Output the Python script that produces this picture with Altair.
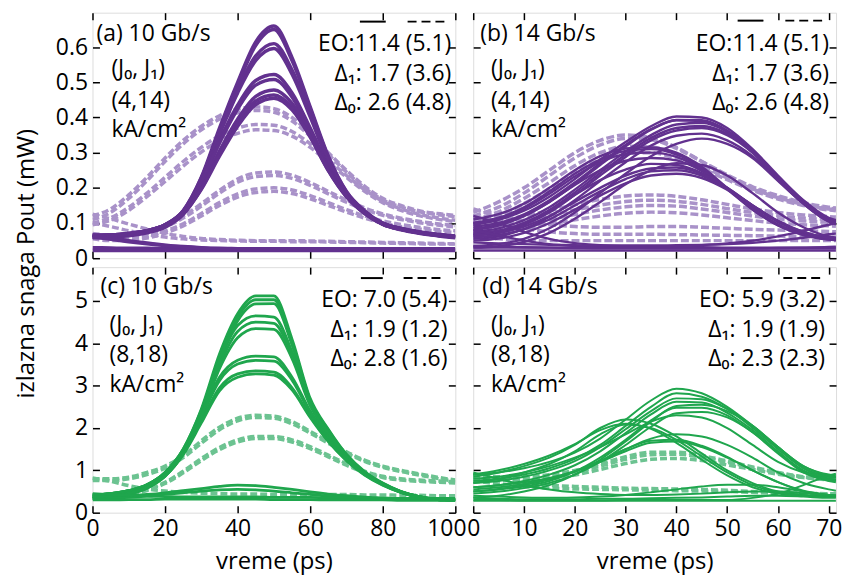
import altair as alt
import pandas as pd

# ---------------- time axes (ps) ----------------
T10 = [0, 5, 10, 15, 20, 25, 30, 35, 40, 45, 50, 55, 60, 65, 70, 75, 80, 85, 90, 95, 100]
T14 = [0, 5, 10, 15, 20, 25, 30, 35, 40, 45, 50, 55, 60, 65, 70, 71.4]

# ---------------- panel (a): 10 Gb/s, (4,14) ----------------
A_SOLID = [
    [0.065, 0.066, 0.07, 0.078, 0.095, 0.135, 0.23, 0.37, 0.5, 0.615, 0.66, 0.57, 0.43, 0.29, 0.19, 0.135, 0.1, 0.085, 0.075, 0.068, 0.063],
    [0.06, 0.062, 0.066, 0.075, 0.092, 0.132, 0.225, 0.362, 0.492, 0.605, 0.65, 0.562, 0.425, 0.287, 0.188, 0.132, 0.098, 0.083, 0.073, 0.066, 0.06],
    [0.065, 0.066, 0.07, 0.078, 0.095, 0.135, 0.228, 0.36, 0.48, 0.575, 0.61, 0.535, 0.41, 0.28, 0.186, 0.132, 0.099, 0.084, 0.074, 0.067, 0.062],
    [0.06, 0.062, 0.066, 0.075, 0.092, 0.132, 0.222, 0.352, 0.47, 0.562, 0.596, 0.523, 0.402, 0.275, 0.183, 0.13, 0.097, 0.082, 0.072, 0.065, 0.06],
    [0.065, 0.066, 0.07, 0.078, 0.095, 0.133, 0.22, 0.335, 0.435, 0.505, 0.522, 0.47, 0.37, 0.262, 0.18, 0.13, 0.099, 0.084, 0.074, 0.067, 0.062],
    [0.06, 0.062, 0.066, 0.075, 0.092, 0.13, 0.214, 0.327, 0.424, 0.492, 0.508, 0.458, 0.362, 0.257, 0.177, 0.128, 0.097, 0.082, 0.072, 0.065, 0.06],
    [0.065, 0.066, 0.07, 0.078, 0.094, 0.13, 0.205, 0.305, 0.395, 0.46, 0.478, 0.44, 0.355, 0.255, 0.178, 0.13, 0.099, 0.084, 0.074, 0.067, 0.062],
    [0.058, 0.06, 0.064, 0.072, 0.088, 0.124, 0.198, 0.296, 0.384, 0.447, 0.464, 0.428, 0.347, 0.25, 0.175, 0.127, 0.096, 0.081, 0.071, 0.064, 0.058],
    [0.062, 0.064, 0.068, 0.076, 0.092, 0.127, 0.196, 0.29, 0.375, 0.437, 0.455, 0.422, 0.344, 0.249, 0.175, 0.128, 0.097, 0.082, 0.072, 0.065, 0.06],
    [0.03, 0.029, 0.028, 0.028, 0.027, 0.027, 0.027, 0.027, 0.027, 0.027, 0.027, 0.027, 0.027, 0.027, 0.027, 0.027, 0.027, 0.027, 0.027, 0.027, 0.027],
    [0.022, 0.022, 0.022, 0.022, 0.022, 0.022, 0.022, 0.022, 0.022, 0.022, 0.022, 0.022, 0.022, 0.022, 0.022, 0.022, 0.022, 0.022, 0.022, 0.022, 0.022],
    [0.065, 0.058, 0.05, 0.043, 0.037, 0.033, 0.03, 0.028, 0.027, 0.026, 0.026, 0.025, 0.025, 0.025, 0.025, 0.025, 0.025, 0.025, 0.025, 0.025, 0.025],
    [0.06, 0.054, 0.047, 0.041, 0.036, 0.032, 0.029, 0.027, 0.026, 0.025, 0.025, 0.024, 0.024, 0.024, 0.024, 0.024, 0.024, 0.024, 0.024, 0.024, 0.024],
]
A_DASHED = [
    [0.12, 0.14, 0.18, 0.23, 0.285, 0.335, 0.375, 0.405, 0.424, 0.43, 0.425, 0.4, 0.355, 0.3, 0.25, 0.205, 0.17, 0.15, 0.135, 0.127, 0.122],
    [0.11, 0.13, 0.17, 0.22, 0.275, 0.325, 0.365, 0.395, 0.413, 0.42, 0.415, 0.39, 0.347, 0.295, 0.245, 0.2, 0.166, 0.146, 0.132, 0.124, 0.118],
    [0.1, 0.115, 0.145, 0.185, 0.23, 0.275, 0.315, 0.348, 0.37, 0.38, 0.378, 0.36, 0.325, 0.28, 0.235, 0.195, 0.162, 0.14, 0.125, 0.115, 0.108],
    [0.095, 0.108, 0.136, 0.175, 0.218, 0.262, 0.302, 0.334, 0.355, 0.365, 0.363, 0.347, 0.315, 0.273, 0.23, 0.19, 0.158, 0.136, 0.121, 0.111, 0.104],
    [0.07, 0.066, 0.066, 0.075, 0.093, 0.12, 0.155, 0.193, 0.225, 0.242, 0.245, 0.236, 0.215, 0.19, 0.165, 0.143, 0.126, 0.114, 0.105, 0.098, 0.093],
    [0.065, 0.061, 0.061, 0.07, 0.088, 0.114, 0.148, 0.185, 0.216, 0.232, 0.235, 0.227, 0.207, 0.183, 0.159, 0.138, 0.122, 0.11, 0.101, 0.094, 0.089],
    [0.06, 0.055, 0.055, 0.062, 0.077, 0.098, 0.127, 0.158, 0.183, 0.197, 0.2, 0.194, 0.178, 0.158, 0.138, 0.12, 0.106, 0.096, 0.088, 0.082, 0.078],
    [0.055, 0.05, 0.05, 0.057, 0.071, 0.092, 0.12, 0.15, 0.174, 0.187, 0.19, 0.184, 0.169, 0.15, 0.131, 0.114, 0.1, 0.09, 0.083, 0.077, 0.073],
    [0.125, 0.112, 0.097, 0.083, 0.071, 0.062, 0.056, 0.053, 0.051, 0.05, 0.05, 0.05, 0.049, 0.048, 0.047, 0.046, 0.045, 0.044, 0.043, 0.042, 0.041],
    [0.1, 0.09, 0.078, 0.068, 0.06, 0.055, 0.052, 0.05, 0.049, 0.048, 0.048, 0.047, 0.047, 0.046, 0.045, 0.044, 0.043, 0.042, 0.041, 0.04, 0.04],
]

# ---------------- panel (b): 14 Gb/s, (4,14) ----------------
B_SOLID = [
    [0.1, 0.11, 0.135, 0.175, 0.225, 0.28, 0.33, 0.375, 0.403, 0.4, 0.37, 0.31, 0.235, 0.165, 0.115, 0.108],
    [0.09, 0.1, 0.125, 0.165, 0.215, 0.27, 0.322, 0.367, 0.392, 0.39, 0.36, 0.3, 0.228, 0.16, 0.112, 0.105],
    [0.085, 0.095, 0.12, 0.16, 0.21, 0.265, 0.318, 0.365, 0.393, 0.392, 0.363, 0.305, 0.23, 0.16, 0.11, 0.102],
    [0.075, 0.085, 0.108, 0.145, 0.195, 0.25, 0.303, 0.35, 0.38, 0.385, 0.36, 0.305, 0.232, 0.163, 0.112, 0.104],
    [0.07, 0.078, 0.1, 0.137, 0.187, 0.242, 0.295, 0.342, 0.37, 0.376, 0.354, 0.302, 0.229, 0.16, 0.109, 0.101],
    [0.065, 0.072, 0.095, 0.13, 0.18, 0.235, 0.288, 0.335, 0.363, 0.37, 0.35, 0.3, 0.228, 0.16, 0.108, 0.1],
    [0.055, 0.062, 0.083, 0.118, 0.165, 0.22, 0.273, 0.32, 0.348, 0.354, 0.335, 0.29, 0.222, 0.155, 0.104, 0.096],
    [0.035, 0.04, 0.055, 0.085, 0.13, 0.185, 0.24, 0.29, 0.325, 0.34, 0.325, 0.285, 0.22, 0.155, 0.105, 0.098],
    [0.11, 0.125, 0.155, 0.2, 0.25, 0.29, 0.312, 0.315, 0.3, 0.26, 0.2, 0.14, 0.095, 0.068, 0.055, 0.053],
    [0.1, 0.115, 0.145, 0.19, 0.24, 0.28, 0.305, 0.31, 0.295, 0.256, 0.198, 0.139, 0.094, 0.067, 0.054, 0.052],
    [0.095, 0.11, 0.14, 0.183, 0.232, 0.273, 0.296, 0.3, 0.288, 0.252, 0.196, 0.138, 0.093, 0.066, 0.053, 0.051],
    [0.08, 0.093, 0.12, 0.16, 0.208, 0.25, 0.277, 0.285, 0.278, 0.248, 0.198, 0.142, 0.096, 0.068, 0.054, 0.052],
    [0.07, 0.078, 0.1, 0.135, 0.18, 0.222, 0.252, 0.268, 0.265, 0.242, 0.2, 0.148, 0.103, 0.072, 0.056, 0.054],
    [0.065, 0.072, 0.09, 0.12, 0.16, 0.2, 0.235, 0.255, 0.258, 0.24, 0.2, 0.15, 0.105, 0.073, 0.057, 0.055],
    [0.06, 0.066, 0.082, 0.11, 0.15, 0.19, 0.225, 0.247, 0.25, 0.235, 0.198, 0.15, 0.105, 0.074, 0.058, 0.056],
    [0.05, 0.056, 0.072, 0.1, 0.138, 0.178, 0.213, 0.235, 0.24, 0.228, 0.195, 0.15, 0.106, 0.075, 0.058, 0.056],
    [0.03, 0.034, 0.046, 0.072, 0.112, 0.16, 0.21, 0.25, 0.27, 0.265, 0.235, 0.185, 0.13, 0.088, 0.062, 0.058],
    [0.12, 0.1, 0.075, 0.055, 0.043, 0.037, 0.034, 0.032, 0.031, 0.031, 0.03, 0.03, 0.03, 0.03, 0.03, 0.03],
    [0.08, 0.065, 0.05, 0.04, 0.035, 0.032, 0.03, 0.029, 0.028, 0.028, 0.028, 0.028, 0.028, 0.028, 0.028, 0.028],
    [0.03, 0.03, 0.03, 0.03, 0.03, 0.03, 0.031, 0.032, 0.034, 0.037, 0.042, 0.05, 0.062, 0.078, 0.095, 0.1],
    [0.045, 0.042, 0.04, 0.038, 0.037, 0.036, 0.036, 0.036, 0.037, 0.038, 0.04, 0.044, 0.05, 0.058, 0.068, 0.07],
    [0.022, 0.022, 0.022, 0.022, 0.022, 0.022, 0.022, 0.022, 0.022, 0.022, 0.022, 0.022, 0.022, 0.022, 0.022, 0.022],
    [0.035, 0.033, 0.031, 0.03, 0.029, 0.028, 0.028, 0.028, 0.028, 0.028, 0.028, 0.028, 0.029, 0.03, 0.032, 0.033],
]
B_DASHED = [
    [0.13, 0.16, 0.2, 0.25, 0.3, 0.335, 0.35, 0.343, 0.315, 0.275, 0.235, 0.2, 0.175, 0.155, 0.142, 0.14],
    [0.12, 0.145, 0.185, 0.235, 0.285, 0.322, 0.34, 0.337, 0.312, 0.275, 0.237, 0.203, 0.178, 0.158, 0.145, 0.143],
    [0.11, 0.132, 0.17, 0.215, 0.263, 0.3, 0.318, 0.316, 0.295, 0.262, 0.228, 0.197, 0.172, 0.153, 0.14, 0.138],
    [0.1, 0.12, 0.155, 0.198, 0.243, 0.28, 0.298, 0.3, 0.283, 0.255, 0.223, 0.193, 0.168, 0.15, 0.137, 0.135],
    [0.1, 0.108, 0.12, 0.135, 0.152, 0.167, 0.177, 0.18, 0.176, 0.166, 0.153, 0.14, 0.13, 0.123, 0.118, 0.117],
    [0.09, 0.097, 0.108, 0.122, 0.137, 0.151, 0.161, 0.165, 0.162, 0.153, 0.141, 0.13, 0.121, 0.114, 0.11, 0.109],
    [0.08, 0.086, 0.097, 0.11, 0.124, 0.137, 0.146, 0.15, 0.148, 0.14, 0.13, 0.12, 0.112, 0.106, 0.102, 0.101],
    [0.07, 0.075, 0.085, 0.097, 0.109, 0.12, 0.128, 0.131, 0.129, 0.123, 0.115, 0.107, 0.1, 0.095, 0.092, 0.091],
    [0.14, 0.12, 0.105, 0.095, 0.09, 0.088, 0.088, 0.09, 0.09, 0.088, 0.085, 0.082, 0.08, 0.078, 0.076, 0.075],
    [0.12, 0.1, 0.085, 0.075, 0.07, 0.068, 0.068, 0.068, 0.067, 0.066, 0.065, 0.064, 0.063, 0.062, 0.061, 0.06],
    [0.06, 0.055, 0.052, 0.05, 0.05, 0.05, 0.05, 0.05, 0.05, 0.05, 0.05, 0.05, 0.05, 0.05, 0.05, 0.05],
]

# ---------------- panel (c): 10 Gb/s, (8,18) ----------------
C_SOLID = [
    [0.42, 0.45, 0.52, 0.66, 0.95, 1.5, 2.45, 3.75, 4.7, 5.12, 5.12, 4.1, 2.7, 1.97, 1.38, 0.97, 0.7, 0.5, 0.38, 0.32, 0.3],
    [0.38, 0.41, 0.48, 0.62, 0.9, 1.45, 2.38, 3.67, 4.62, 5.03, 5.03, 4.03, 2.66, 1.95, 1.36, 0.96, 0.69, 0.5, 0.38, 0.32, 0.3],
    [0.34, 0.37, 0.44, 0.58, 0.86, 1.4, 2.32, 3.6, 4.53, 4.93, 4.94, 3.96, 2.63, 1.93, 1.34, 0.95, 0.68, 0.49, 0.37, 0.31, 0.3],
    [0.42, 0.45, 0.52, 0.66, 0.95, 1.5, 2.42, 3.6, 4.42, 4.65, 4.62, 3.8, 2.6, 1.9, 1.33, 0.95, 0.69, 0.5, 0.38, 0.32, 0.3],
    [0.38, 0.41, 0.48, 0.62, 0.9, 1.45, 2.35, 3.5, 4.28, 4.5, 4.47, 3.72, 2.56, 1.88, 1.32, 0.94, 0.68, 0.49, 0.37, 0.31, 0.3],
    [0.34, 0.37, 0.44, 0.58, 0.86, 1.4, 2.28, 3.4, 4.13, 4.35, 4.33, 3.64, 2.53, 1.86, 1.31, 0.93, 0.67, 0.48, 0.37, 0.31, 0.3],
    [0.42, 0.45, 0.52, 0.66, 0.95, 1.48, 2.3, 3.2, 3.6, 3.7, 3.68, 3.2, 2.4, 1.78, 1.28, 0.92, 0.67, 0.49, 0.38, 0.32, 0.3],
    [0.38, 0.41, 0.48, 0.62, 0.9, 1.43, 2.25, 3.12, 3.51, 3.6, 3.58, 3.13, 2.36, 1.75, 1.26, 0.91, 0.66, 0.48, 0.37, 0.31, 0.3],
    [0.42, 0.45, 0.52, 0.65, 0.92, 1.42, 2.18, 2.95, 3.28, 3.35, 3.32, 2.95, 2.28, 1.7, 1.24, 0.9, 0.66, 0.49, 0.38, 0.32, 0.3],
    [0.36, 0.39, 0.46, 0.6, 0.87, 1.37, 2.12, 2.88, 3.2, 3.28, 3.25, 2.9, 2.25, 1.68, 1.23, 0.89, 0.65, 0.48, 0.37, 0.31, 0.3],
    [0.38, 0.38, 0.4, 0.43, 0.47, 0.52, 0.57, 0.62, 0.65, 0.64, 0.6, 0.55, 0.49, 0.44, 0.4, 0.37, 0.35, 0.33, 0.32, 0.32, 0.32],
    [0.33, 0.34, 0.36, 0.39, 0.43, 0.47, 0.51, 0.54, 0.55, 0.54, 0.51, 0.47, 0.43, 0.39, 0.36, 0.34, 0.32, 0.31, 0.31, 0.31, 0.31],
    [0.45, 0.43, 0.41, 0.39, 0.38, 0.37, 0.37, 0.37, 0.37, 0.37, 0.36, 0.36, 0.36, 0.35, 0.35, 0.35, 0.34, 0.34, 0.34, 0.34, 0.34],
    [0.3, 0.3, 0.31, 0.31, 0.32, 0.32, 0.32, 0.32, 0.32, 0.32, 0.31, 0.31, 0.31, 0.3, 0.3, 0.3, 0.3, 0.29, 0.29, 0.29, 0.29],
]
C_DASHED = [
    [0.8, 0.8, 0.84, 0.95, 1.1, 1.35, 1.7, 2.02, 2.23, 2.3, 2.28, 2.15, 1.92, 1.68, 1.44, 1.24, 1.1, 1.0, 0.92, 0.84, 0.77],
    [0.76, 0.76, 0.8, 0.9, 1.05, 1.3, 1.64, 1.96, 2.17, 2.25, 2.23, 2.1, 1.88, 1.64, 1.41, 1.21, 1.07, 0.97, 0.89, 0.81, 0.74],
    [0.38, 0.4, 0.45, 0.55, 0.72, 0.98, 1.28, 1.54, 1.72, 1.8, 1.8, 1.72, 1.56, 1.36, 1.16, 0.98, 0.86, 0.8, 0.77, 0.75, 0.73],
    [0.35, 0.37, 0.42, 0.52, 0.69, 0.94, 1.23, 1.49, 1.67, 1.75, 1.75, 1.67, 1.51, 1.32, 1.12, 0.95, 0.83, 0.77, 0.74, 0.72, 0.7],
    [0.82, 0.74, 0.64, 0.56, 0.51, 0.48, 0.46, 0.45, 0.44, 0.44, 0.43, 0.43, 0.43, 0.43, 0.43, 0.42, 0.42, 0.41, 0.41, 0.4, 0.4],
]

# ---------------- panel (d): 14 Gb/s, (8,18) ----------------
D_SOLID = [
    [0.9, 0.95, 1.05, 1.2, 1.42, 1.75, 2.2, 2.65, 2.93, 2.82, 2.5, 2.05, 1.55, 1.1, 0.9, 0.88],
    [0.75, 0.8, 0.9, 1.05, 1.27, 1.6, 2.05, 2.5, 2.82, 2.74, 2.45, 2.0, 1.5, 1.05, 0.85, 0.82],
    [0.7, 0.75, 0.85, 1.0, 1.22, 1.55, 1.97, 2.4, 2.7, 2.68, 2.45, 2.05, 1.55, 1.1, 0.88, 0.85],
    [0.6, 0.65, 0.75, 0.9, 1.12, 1.45, 1.88, 2.32, 2.62, 2.6, 2.36, 1.95, 1.45, 1.0, 0.8, 0.77],
    [0.35, 0.4, 0.5, 0.65, 0.9, 1.25, 1.68, 2.15, 2.52, 2.55, 2.4, 2.05, 1.55, 1.05, 0.8, 0.77],
    [0.5, 0.55, 0.62, 0.75, 0.97, 1.3, 1.72, 2.18, 2.48, 2.48, 2.3, 1.9, 1.4, 0.95, 0.75, 0.72],
    [0.45, 0.5, 0.58, 0.7, 0.9, 1.2, 1.6, 2.03, 2.35, 2.38, 2.25, 1.9, 1.42, 0.98, 0.78, 0.75],
    [0.8, 0.85, 0.95, 1.1, 1.3, 1.55, 1.85, 2.15, 2.3, 2.25, 2.0, 1.6, 1.2, 0.95, 0.85, 0.83],
    [0.85, 0.95, 1.1, 1.3, 1.6, 2.0, 2.2, 2.1, 1.8, 1.4, 1.0, 0.7, 0.5, 0.42, 0.4, 0.4],
    [0.9, 1.0, 1.15, 1.35, 1.62, 1.95, 2.1, 1.98, 1.65, 1.25, 0.88, 0.6, 0.45, 0.4, 0.38, 0.38],
    [0.7, 0.8, 0.95, 1.15, 1.45, 1.85, 2.08, 2.0, 1.72, 1.33, 0.95, 0.65, 0.48, 0.4, 0.38, 0.38],
    [0.6, 0.65, 0.72, 0.82, 0.98, 1.2, 1.45, 1.65, 1.68, 1.55, 1.3, 1.0, 0.72, 0.5, 0.4, 0.38],
    [0.5, 0.56, 0.65, 0.78, 0.97, 1.22, 1.5, 1.7, 1.72, 1.58, 1.32, 1.0, 0.72, 0.52, 0.42, 0.4],
    [0.55, 0.6, 0.68, 0.8, 0.98, 1.22, 1.5, 1.75, 1.85, 1.8, 1.6, 1.3, 0.95, 0.7, 0.55, 0.52],
    [0.35, 0.33, 0.32, 0.32, 0.32, 0.33, 0.33, 0.34, 0.35, 0.36, 0.38, 0.4, 0.4, 0.38, 0.35, 0.35],
    [0.4, 0.38, 0.36, 0.35, 0.36, 0.38, 0.42, 0.48, 0.55, 0.62, 0.66, 0.66, 0.6, 0.5, 0.42, 0.4],
    [0.95, 0.8, 0.65, 0.55, 0.48, 0.44, 0.42, 0.42, 0.43, 0.45, 0.48, 0.5, 0.5, 0.46, 0.42, 0.41],
    [0.3, 0.3, 0.29, 0.29, 0.29, 0.29, 0.3, 0.3, 0.3, 0.3, 0.3, 0.35, 0.45, 0.65, 0.88, 0.92],
    [0.28, 0.28, 0.28, 0.28, 0.28, 0.28, 0.28, 0.28, 0.28, 0.28, 0.28, 0.28, 0.28, 0.28, 0.28, 0.28],
]
D_DASHED = [
    [0.9, 0.85, 0.85, 0.9, 1.0, 1.15, 1.32, 1.43, 1.43, 1.35, 1.22, 1.08, 0.95, 0.85, 0.8, 0.8],
    [0.85, 0.8, 0.8, 0.85, 0.95, 1.1, 1.26, 1.37, 1.38, 1.31, 1.19, 1.06, 0.94, 0.84, 0.79, 0.79],
    [0.8, 0.76, 0.76, 0.8, 0.89, 1.02, 1.16, 1.26, 1.28, 1.23, 1.13, 1.02, 0.91, 0.83, 0.78, 0.78],
    [0.9, 0.8, 0.7, 0.65, 0.62, 0.6, 0.58, 0.57, 0.56, 0.55, 0.53, 0.5, 0.48, 0.46, 0.45, 0.45],
    [0.75, 0.68, 0.62, 0.58, 0.56, 0.55, 0.54, 0.53, 0.52, 0.51, 0.5, 0.48, 0.46, 0.45, 0.44, 0.44],
]

# ---------------- annotations ----------------
LEFT_TEXT = {
    "a": ["(a) 10 Gb/s", "(J\u2080, J\u2081)", "(4,14)", "kA/cm\u00b2"],
    "b": ["(b) 14 Gb/s", "(J\u2080, J\u2081)", "(4,14)", "kA/cm\u00b2"],
    "c": ["(c) 10 Gb/s", "(J\u2080, J\u2081)", "(8,18)", "kA/cm\u00b2"],
    "d": ["(d) 14 Gb/s", "(J\u2080, J\u2081)", "(8,18)", "kA/cm\u00b2"],
}
RIGHT_TEXT = {
    "a": ["EO:11.4 (5.1)", "\u0394\u2081: 1.7 (3.6)", "\u0394\u2080: 2.6 (4.8)"],
    "b": ["EO:11.4 (5.1)", "\u0394\u2081: 1.7 (3.6)", "\u0394\u2080: 2.6 (4.8)"],
    "c": ["EO: 7.0 (5.4)", "\u0394\u2081: 1.9 (1.2)", "\u0394\u2080: 2.8 (1.6)"],
    "d": ["EO: 5.9 (3.2)", "\u0394\u2081: 1.9 (1.9)", "\u0394\u2080: 2.3 (2.3)"],
}
X_TITLE = "vreme (ps)"
Y_TITLE = "izlazna snaga Pout (mW)"

PURPLE, PURPLE_L = "#62318f", "#a992c9"
GREEN, GREEN_L = "#1fa64d", "#6cc391"
FONT = "Open Sans"
W, H = 365, 247
TK = 7


def long_frame(t, curves, style):
    rows = []
    for i, c in enumerate(curves):
        for x, y in zip(t, c):
            rows.append({"t": x, "p": y, "id": f"{style}{i}", "s": style})
    return rows


def axis(**kw):
    base = dict(offset=-TK, tickSize=TK, domain=False, grid=False, tickColor="black",
                tickWidth=1.5, labelFont=FONT, labelFontSize=23, labelColor="black",
                labelOverlap=False, labelFlush=False, labelBound=False)
    base.update(kw)
    return alt.Axis(**base)


def panel(key, t, solid, dashed, col, col_l, sw_s, sw_d, dash, xmax, xvals, ymax, yvals,
          show_xlab, show_ylab, yfmt, hx, ox, rx, ty, rty, mark_y, ms, md):
    df = pd.DataFrame(long_frame(t, solid, "s") + long_frame(t, dashed, "d"))
    xs = alt.Scale(domain=[0, xmax], nice=False, zero=False)
    ys = alt.Scale(domain=[0, ymax], nice=False, zero=False)
    base = alt.Chart(df)

    xkw = dict(orient="bottom", values=xvals, labels=show_xlab, labelPadding=5, format="d",
               labelOffset={"condition": {"test": "datum.value == 100", "value": -9}, "value": 0})
    if show_xlab:
        xkw.update(title=X_TITLE, titleFont=FONT, titleFontSize=24, titleFontWeight="normal",
                   titleColor="black", titlePadding=9)
    else:
        xkw.update(title="")
    ykw = dict(orient="left", values=yvals, labels=show_ylab, labelPadding=5, format=yfmt)
    if key == "a":
        ykw.update(title=Y_TITLE, titleFont=FONT, titleFontSize=24, titleFontWeight="normal",
                   titleColor="black", titleAngle=-90, titleAlign="center",
                   titleBaseline="alphabetic", titleX=33 - 92 - TK, titleY=252)
    else:
        ykw.update(title="")

    dashed_l = base.transform_filter(alt.datum.s == "d").mark_line(
        color=col_l, strokeWidth=sw_d, strokeDash=dash, interpolate="monotone", clip=True
    ).encode(x=alt.X("t:Q", scale=xs, axis=axis(**xkw)),
             y=alt.Y("p:Q", scale=ys, axis=axis(**ykw)),
             detail="id:N")
    solid_l = base.transform_filter(alt.datum.s == "s").mark_line(
        color=col, strokeWidth=sw_s, interpolate="monotone", clip=True
    ).encode(x=alt.X("t:Q", scale=xs, axis=None),
             y=alt.Y("p:Q", scale=ys, axis=None),
             detail="id:N")
    mirror = base.mark_point(opacity=0).encode(
        x=alt.X("t:Q", scale=xs, axis=axis(orient="top", values=xvals, labels=False, title="")),
        y=alt.Y("p:Q", scale=ys, axis=axis(orient="right", values=yvals, labels=False, title="")),
    )

    one = pd.DataFrame({"k": [0]})
    layers = [dashed_l, solid_l, mirror]
    for i, txt in enumerate(LEFT_TEXT[key]):
        layers.append(alt.Chart(one).mark_text(
            text=txt, align="left", baseline="alphabetic", font=FONT, fontSize=23, color="black"
        ).encode(x=alt.value(hx if i == 0 else ox), y=alt.value(ty[i])))
    for i, txt in enumerate(RIGHT_TEXT[key]):
        layers.append(alt.Chart(one).mark_text(
            text=txt, align="right", baseline="alphabetic", font=FONT, fontSize=23, color="black"
        ).encode(x=alt.value(rx), y=alt.value(rty[i])))
    layers.append(alt.Chart(one).mark_rule(color="black", strokeWidth=2).encode(
        x=alt.value(ms[0]), x2=alt.value(ms[1]), y=alt.value(mark_y)))
    layers.append(alt.Chart(one).mark_rule(color="black", strokeWidth=2, strokeDash=[9, 5]).encode(
        x=alt.value(md[0]), x2=alt.value(md[1]), y=alt.value(mark_y)))

    return alt.layer(*layers).resolve_axis(x="independent", y="independent").properties(
        width=W, height=H)


X10 = [0, 20, 40, 60, 80, 100]
X14 = [0, 10, 20, 30, 40, 50, 60, 70]
YA = [0, 0.1, 0.2, 0.3, 0.4, 0.5, 0.6]
YC = [0, 1, 2, 3, 4, 5]

pa = panel("a", T10, A_SOLID, A_DASHED, PURPLE, PURPLE_L, 3.5, 3.5, [7, 3], 100, X10, 0.698, YA,
           False, True, ".1~f", 4, 19, 361, [28, 64, 96, 125], [39, 68.5, 97.5], 9, (269, 295), (317, 355))
pb = panel("b", T14, B_SOLID, B_DASHED, PURPLE, PURPLE_L, 2.4, 3.5, [8, 3], 71.43, X14, 0.698, YA,
           False, False, ".1~f", 7, 18, 358, [28, 64, 96, 125], [39, 68.5, 97.5], 8, (266, 292), (314, 352))
pc = panel("c", T10, C_SOLID, C_DASHED, GREEN, GREEN_L, 2.8, 3.5, [7, 3], 100, X10, 5.8, YC,
           True, True, "d", 8, 17, 357, [27, 65, 95, 126], [40, 70, 99], 11, (270, 292), (313, 350))
pd_ = panel("d", T14, D_SOLID, D_DASHED, GREEN, GREEN_L, 2, 3.5, [7, 3], 71.43, X14, 5.8, YC,
            True, False, "d", 9, 18, 354, [27, 65, 95, 126], [40, 70, 99], 11, (269, 291), (312, 349))

chart = alt.concat(pa, pb, pc, pd_, columns=2, spacing={"row": 9, "column": 18}, bounds="flush").properties(
    padding={"left": 6, "top": 1, "right": 0, "bottom": 0}
).configure_view(stroke="black", strokeWidth=1.5).configure(background="white")

chart.save("out.html", embed_options={"renderer": "svg", "actions": False})
